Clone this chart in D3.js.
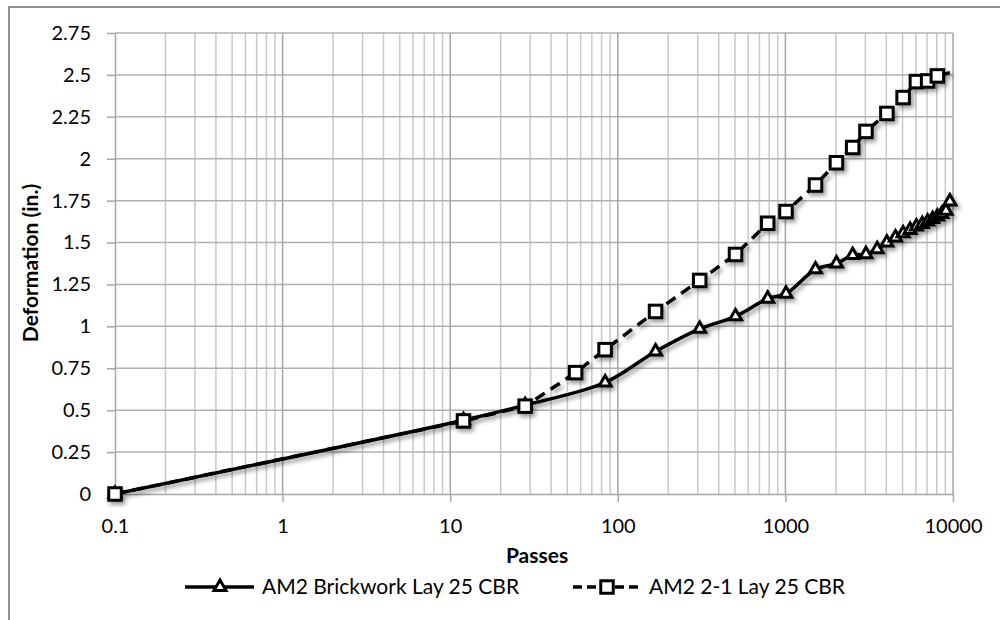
<!DOCTYPE html>
<html>
<head>
<meta charset="utf-8">
<script src="https://cdn.jsdelivr.net/npm/d3@7/dist/d3.min.js"></script>
<style>
  html, body { margin: 0; padding: 0; background: #fff; }
  svg { display: block; font-family: Lato, "Open Sans", sans-serif; }
</style>
</head>
<body>
<script>
// Passes (log scale, first reading plotted at 0.1) and rut deformation in inches
const passesBrick = [0.1, 12, 28, 84, 168, 308, 504, 784, 1008, 1512, 2016, 2520, 3024, 3528,
  4032, 4536, 5040, 5544, 6048, 6552, 7056, 7560, 8064, 8568, 9072, 9576];
const deformBrick = [0, 0.44, 0.53, 0.665, 0.85, 0.985, 1.06, 1.165, 1.195, 1.34, 1.375, 1.425, 1.43, 1.46,
  1.5, 1.53, 1.555, 1.575, 1.595, 1.61, 1.625, 1.64, 1.655, 1.67, 1.69, 1.745];

const passesGrid = [0.1, 12, 28, 56, 84, 168, 308, 504, 784, 1008, 1512, 2016, 2520, 3024,
  4032, 5040, 6048, 7056, 8064, 11088];
const deformGrid = [0, 0.436, 0.524, 0.724, 0.861, 1.089, 1.274, 1.429, 1.615, 1.685, 1.843, 1.976, 2.067, 2.163,
  2.27, 2.365, 2.46, 2.464, 2.494, 2.53];

const seriesNames = ["AM2 Brickwork Lay 25 CBR", "AM2 2-1 Lay 25 CBR"];

const xTicks = [0.1, 1, 10, 100, 1000, 10000];
const yTicks = [0, 0.25, 0.5, 0.75, 1, 1.25, 1.5, 1.75, 2, 2.25, 2.5, 2.75];
const xTitle = "Passes";
const yTitle = "Deformation (in.)";

const W = 1000, H = 620;
const plot = { left: 115, right: 953, top: 33, bottom: 494 };

const svg = d3.select("body").append("svg").attr("width", W).attr("height", H);

const defs = svg.append("defs");
const shadow = defs.append("filter").attr("id", "shadow")
  .attr("x", "-20%").attr("y", "-20%").attr("width", "140%").attr("height", "140%");
shadow.append("feDropShadow").attr("dx", 2.5).attr("dy", 3).attr("stdDeviation", 2)
  .attr("flood-color", "#000").attr("flood-opacity", 0.4);
defs.append("clipPath").attr("id", "plotClip").append("rect")
  .attr("x", plot.left - 12).attr("y", plot.top - 12)
  .attr("width", plot.right - plot.left + 12).attr("height", plot.bottom - plot.top + 24);

// outer chart frame
svg.append("rect").attr("x", 9).attr("y", 7).attr("width", 1010).attr("height", 640)
  .attr("fill", "none").attr("stroke", "#6e6e6e").attr("stroke-width", 1.5);

const x = d3.scaleLog().domain([0.1, 10000]).range([plot.left, plot.right]);
const y = d3.scaleLinear().domain([0, 2.75]).range([plot.bottom, plot.top]);

// gridlines
const grid = svg.append("g");
const minor = [];
xTicks.slice(0, -1).forEach(d => { for (let k = 2; k <= 9; k++) minor.push(d * k); });
grid.selectAll(".minor").data(minor).join("line")
  .attr("x1", d => x(d)).attr("x2", d => x(d))
  .attr("y1", plot.top).attr("y2", plot.bottom)
  .attr("stroke", "#c8c8c8").attr("stroke-width", 1.5);
grid.selectAll(".hgrid").data(yTicks.slice(1)).join("line")
  .attr("x1", plot.left).attr("x2", plot.right)
  .attr("y1", d => y(d)).attr("y2", d => y(d))
  .attr("stroke", "#b0b0b0").attr("stroke-width", 1.5);
grid.selectAll(".major").data(xTicks.slice(1)).join("line")
  .attr("x1", d => x(d)).attr("x2", d => x(d))
  .attr("y1", plot.top).attr("y2", plot.bottom)
  .attr("stroke", "#a6a6a6").attr("stroke-width", 1.5);

// axes
const yAxis = svg.append("g").attr("transform", `translate(${plot.left},0)`)
  .call(d3.axisLeft(y).tickValues(yTicks).tickSize(8).tickSizeOuter(0).tickPadding(16)
    .tickFormat(d3.format("~g")));
const xAxis = svg.append("g").attr("transform", `translate(0,${plot.bottom})`)
  .call(d3.axisBottom(x).tickValues(xTicks).tickSize(8).tickSizeOuter(0).tickPadding(17)
    .tickFormat(d => String(d)));
[xAxis, yAxis].forEach(a => {
  a.select(".domain").attr("stroke", "#a6a6a6").attr("stroke-width", 1.5);
  a.selectAll(".tick line").attr("stroke", "#a6a6a6").attr("stroke-width", 1.5);
  a.selectAll(".tick text").attr("fill", "#000").style("font-size", "20px")
    .style("font-family", "Lato, sans-serif");
});

// axis titles
svg.append("text").attr("x", (plot.left + plot.right) / 2 + 3).attr("y", 563)
  .attr("text-anchor", "middle").style("font-weight", "bold").style("font-size", "21px")
  .text(xTitle);
svg.append("text").attr("transform", "translate(38,263) rotate(-90)")
  .attr("text-anchor", "middle").style("font-weight", "bold").style("font-size", "21px")
  .text(yTitle);

// marker shapes
const triPath = d3.symbol().type(d3.symbolTriangle).size(62)();
const sqSize = 12.5;

const brick = passesBrick.map((p, i) => ({ p, d: deformBrick[i] }));
const gridS = passesGrid.map((p, i) => ({ p, d: deformGrid[i] }));

const lineSmooth = d3.line().x(d => x(d.p)).y(d => y(d.d)).curve(d3.curveCatmullRom.alpha(0.5));
const lineStraight = d3.line().x(d => x(d.p)).y(d => y(d.d));

const series = svg.append("g").attr("filter", "url(#shadow)");

// brickwork series
series.append("path").datum(brick).attr("d", lineSmooth)
  .attr("clip-path", "url(#plotClip)")
  .attr("fill", "none").attr("stroke", "#000").attr("stroke-width", 3.5);
series.append("g").selectAll("path").data(brick).join("path")
  .attr("d", triPath)
  .attr("transform", d => `translate(${x(d.p)},${y(d.d)})`)
  .attr("fill", "#fff").attr("stroke", "#000").attr("stroke-width", 3);

// 2-1 series
series.append("path").datum(gridS).attr("d", lineStraight)
  .attr("clip-path", "url(#plotClip)")
  .attr("fill", "none").attr("stroke", "#000").attr("stroke-width", 3.5)
  .attr("stroke-dasharray", "11,7");
series.append("g").selectAll("rect").data(gridS.filter(d => d.p <= 10000)).join("rect")
  .attr("x", d => x(d.p) - sqSize / 2).attr("y", d => y(d.d) - sqSize / 2)
  .attr("width", sqSize).attr("height", sqSize)
  .attr("fill", "#fff").attr("stroke", "#000").attr("stroke-width", 3);

// legend
const legY = 587;
const leg = svg.append("g");
leg.append("line").attr("x1", 185).attr("x2", 254).attr("y1", legY).attr("y2", legY)
  .attr("stroke", "#000").attr("stroke-width", 3.5);
leg.append("path").attr("d", triPath).attr("transform", `translate(220,${legY})`)
  .attr("fill", "#fff").attr("stroke", "#000").attr("stroke-width", 3);
leg.append("text").attr("x", 262).attr("y", legY).attr("dy", "0.35em")
  .style("font-size", "21px").text(seriesNames[0]);
leg.append("line").attr("x1", 573).attr("x2", 642).attr("y1", legY).attr("y2", legY)
  .attr("stroke", "#000").attr("stroke-width", 3.5).attr("stroke-dasharray", "9,5");
leg.append("rect").attr("x", 607 - sqSize / 2).attr("y", legY - sqSize / 2)
  .attr("width", sqSize).attr("height", sqSize)
  .attr("fill", "#fff").attr("stroke", "#000").attr("stroke-width", 3);
leg.append("text").attr("x", 649).attr("y", legY).attr("dy", "0.35em")
  .style("font-size", "21px").text(seriesNames[1]);
</script>
</body>
</html>
